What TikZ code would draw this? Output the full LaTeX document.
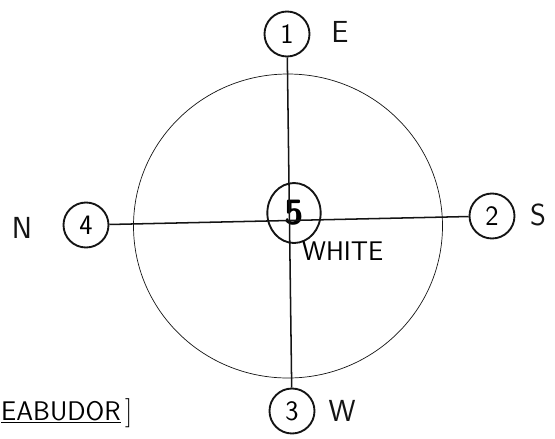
\documentclass[tikz,border=0pt]{standalone}
\usepackage{xcolor}
\usepackage{tikz}
\usetikzlibrary{positioning, shapes.geometric}
\definecolor{inkdark}{RGB}{20,20,20}
\tikzset{
  station/.style={circle, draw=inkdark, line width=1.6pt,
    minimum size=1.35cm, inner sep=0pt, font=\sffamily\fontsize{24}{28}\selectfont},
  centre/.style={ellipse, draw=inkdark, line width=1.6pt,
    minimum width=1.6cm, minimum height=1.8cm, inner sep=0pt,
    font=\sffamily\bfseries\fontsize{30}{34}\selectfont},
  compass/.style={font=\sffamily\fontsize{26}{30}\selectfont, color=inkdark},
  spoke/.style={line width=1.3pt, color=inkdark},
  rim/.style={line width=0.6pt, color=inkdark}
}
\begin{document}
\begin{tikzpicture}[x=0.03cm, y=-0.03cm]
  \useasboundingbox (0,0) rectangle (555,438);
  % outer ring
  \draw[rim] (288,226) ellipse [x radius=154.5, y radius=152];
  % numbered stations
  \node[centre] (n5) at (294,213) {5};
  \node[station] (n1) at (287,34) {1};
  \node[station] (n2) at (492,216) {2};
  \node[station] (n3) at (292,411) {3};
  \node[station] (n4) at (86,225) {4};
  % spokes through the centre
  \draw[spoke] (n1) -- (n3);
  \draw[spoke] (n4) -- (n2);
  % compass letters
  \node[compass] (lE) at (340,32) {E};
  \node[compass] (lS) at (538,215) {S};
  \node[compass] (lW) at (342,411) {W};
  \node[compass] (lN) at (22,228) {N};
  \node[font=\sffamily\fontsize{23}{26}\selectfont, anchor=west] (white) at (298,251) {WHITE};
  % note at the bottom left
  \node[font=\sffamily\fontsize{23}{27}\selectfont, anchor=west, inner sep=0pt] (note) at (1,413)
    {\underline{EABUDOR}\,$\Big]$};
\end{tikzpicture}
\end{document}
